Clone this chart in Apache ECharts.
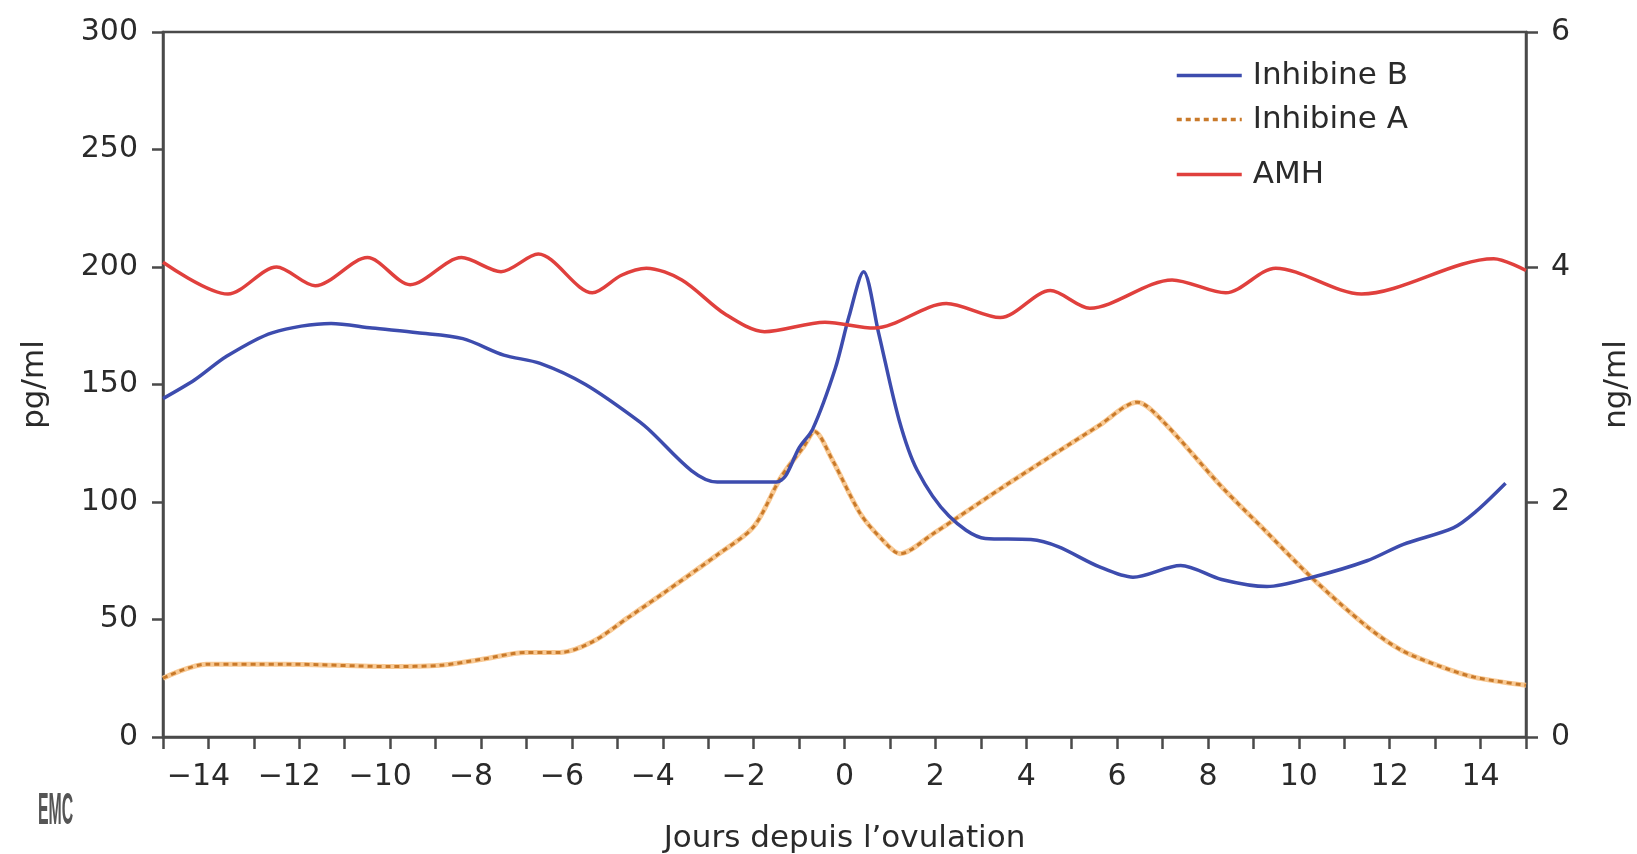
<!DOCTYPE html>
<html>
<head>
<meta charset="utf-8">
<script src="https://cdn.jsdelivr.net/npm/echarts@6/dist/echarts.min.js"></script>
<style>
html,body{margin:0;padding:0;background:#fff;}
#chart{width:1637px;height:854px;}
</style>
</head>
<body>
<div id="chart"></div>
<script>
// ---- Data ----
// x axis: days since ovulation
const xTickLabels = [-14, -12, -10, -8, -6, -4, -2, 0, 2, 4, 6, 8, 10, 12, 14];

// Inhibine B (pg/ml, left axis)
const inhBDays = [-15, -14.3, -13.6, -12.6, -11.3, -10.4, -9.4, -8.4, -7.5, -6.7, -5.7, -4.5, -2.8, -1.5, -1.3, -1.0, -0.7, -0.2, 0.1, 0.42, 0.75, 1.2, 1.6, 2.3, 3.1, 4.1, 4.7, 5.6, 6.35, 7.4, 8.3, 9.3, 10.3, 11.5, 12.3, 13.4, 13.9, 14.55];
const inhBValues = [144, 152, 162, 172, 176, 174, 172, 169.5, 162.5, 159, 150, 134, 108.5, 108.5, 111, 123, 131, 157, 179, 198, 172, 135, 113.5, 94, 84.5, 84, 81, 72.5, 68, 73, 67, 64, 68, 75, 82, 89, 96, 108];

// Inhibine A (pg/ml, left axis)
const inhADays = [-15, -14.05, -12.3, -10, -8.9, -8.0, -7.0, -6.25, -5.55, -4.75, -4.0, -2.8, -2.0, -1.4, -0.9, -0.66, -0.27, 0.35, 0.83, 1.22, 1.95, 3.5, 5.6, 6.45, 7.0, 8.3, 9.25, 10.3, 11.5, 12.25, 13.05, 13.85, 15];
const inhAValues = [25, 31, 31, 30, 30.5, 33, 36, 36, 40.5, 51, 61, 77.5, 89.5, 110.5, 123.5, 130, 118, 95, 84, 78, 86.5, 106.5, 132.5, 142.5, 134.5, 106.5, 88, 67.5, 47, 37, 30.5, 25.5, 22];

// AMH (ng/ml, right axis)
const amhDays = [-15, -13.57, -12.5, -11.65, -10.5, -9.56, -8.43, -7.56, -6.74, -5.55, -4.91, -4.36, -3.58, -2.63, -1.76, -0.43, 0.66, 2.24, 3.43, 4.53, 5.4, 7.21, 8.39, 9.49, 11.38, 14.29, 15];
const amhValues = [4.04, 3.77, 4.0, 3.84, 4.08, 3.85, 4.08, 3.96, 4.11, 3.78, 3.93, 3.99, 3.89, 3.6, 3.45, 3.53, 3.48, 3.69, 3.57, 3.8, 3.65, 3.89, 3.78, 3.99, 3.77, 4.07, 3.97];

const leftTicks = [0, 50, 100, 150, 200, 250, 300];
const rightTicks = [0, 2, 4, 6];

function pairs(xs, ys) { return xs.map((x, i) => [x, ys[i]]); }

const FONT = 'DejaVu Sans';
const TXT = '#2a2a2a';
const AXIS = '#4a4a4a';
const BLUE = '#3d4cae';
const RED = '#e0403d';
const ORANGE = '#c97a2a';
const ORANGE_LIGHT = '#f8c994';
const TICK_FS = 30;

const chart = echarts.init(document.getElementById('chart'), null, {renderer: 'canvas'});

function legendAt(name, centerY) {
  return {
    data: [name],
    left: 1175,
    top: centerY - 16,
    padding: 0,
    itemWidth: 65,
    itemHeight: 14,
    itemStyle: {opacity: 0},
    lineStyle: {width: 3.5},
    textStyle: {fontFamily: FONT, fontSize: 31, color: TXT, padding: [0, 0, 0, 6]},
    selectedMode: false
  };
}

const option = {
  animation: false,
  backgroundColor: '#fff',
  grid: {left: 163, right: 111, top: 32, bottom: 117, show: true, borderColor: AXIS, borderWidth: 2.5,
         containLabel: false, outerBoundsMode: 'none'},
  legend: [
    legendAt('Inhibine B', 76),
    legendAt('Inhibine A', 120),
    legendAt('AMH', 175)
  ],
  xAxis: {
    type: 'value', min: -15, max: 15, interval: 1,
    name: 'Jours depuis l\u2019ovulation', nameLocation: 'middle', nameGap: 86,
    nameTextStyle: {fontFamily: FONT, fontSize: 31, color: TXT},
    axisLine: {onZero: false, lineStyle: {color: AXIS, width: 2.5}},
    axisTick: {show: true, inside: false, length: 12, lineStyle: {color: AXIS, width: 2.5}},
    axisLabel: {
      fontFamily: FONT, fontSize: TICK_FS, color: TXT, margin: 25,
      formatter: v => {
        if (xTickLabels.indexOf(v) < 0) return '';
        return v < 0 ? '{neg|\u2212' + Math.abs(v) + '}' : String(v);
      },
      rich: {neg: {fontFamily: FONT, fontSize: TICK_FS, color: TXT, padding: [0, 20, 0, 0]}}
    },
    splitLine: {show: false}
  },
  yAxis: [
    {
      type: 'value', min: leftTicks[0], max: leftTicks[leftTicks.length - 1], interval: 50, position: 'left',
      name: 'pg/ml', nameLocation: 'middle', nameRotate: 90, nameGap: 113,
      nameTextStyle: {fontFamily: FONT, fontSize: 31, color: TXT},
      axisLine: {show: true, onZero: false, lineStyle: {color: AXIS, width: 2.5}},
      axisTick: {show: true, inside: false, length: 11, lineStyle: {color: AXIS, width: 2.5}},
      axisLabel: {fontFamily: FONT, fontSize: TICK_FS, color: TXT, margin: 25},
      splitLine: {show: false}
    },
    {
      type: 'value', min: rightTicks[0], max: rightTicks[rightTicks.length - 1], interval: 2, position: 'right',
      name: 'ng/ml', nameLocation: 'middle', nameRotate: 90, nameGap: 75,
      nameTextStyle: {fontFamily: FONT, fontSize: 31, color: TXT},
      axisLine: {show: true, onZero: false, lineStyle: {color: AXIS, width: 2.5}},
      axisTick: {show: true, inside: false, length: 12, lineStyle: {color: AXIS, width: 2.5}},
      axisLabel: {fontFamily: FONT, fontSize: TICK_FS, color: TXT, margin: 25},
      splitLine: {show: false}
    }
  ],
  series: [
    {
      name: 'Inhibine B', type: 'line', yAxisIndex: 0, symbol: 'none', smooth: 0.3,
      data: pairs(inhBDays, inhBValues),
      lineStyle: {color: BLUE, width: 3.5}, itemStyle: {color: BLUE}, z: 4
    },
    {
      name: '_inhA_under', type: 'line', yAxisIndex: 0, symbol: 'none', smooth: 0.3, silent: true,
      data: pairs(inhADays, inhAValues),
      lineStyle: {color: ORANGE_LIGHT, width: 5}, itemStyle: {color: ORANGE_LIGHT}, z: 2
    },
    {
      name: 'Inhibine A', type: 'line', yAxisIndex: 0, symbol: 'none', smooth: 0.3,
      data: pairs(inhADays, inhAValues),
      lineStyle: {color: ORANGE, width: 3, type: [5, 4]}, itemStyle: {color: ORANGE}, z: 3
    },
    {
      name: 'AMH', type: 'line', yAxisIndex: 1, symbol: 'none', smooth: 0.3,
      data: pairs(amhDays, amhValues),
      lineStyle: {color: RED, width: 3.5}, itemStyle: {color: RED}, z: 4
    }
  ],
  graphic: [
    {
      type: 'text', left: 38, top: 790, scaleX: 0.36,
      style: {text: 'EMC', fontFamily: 'Liberation Sans', fontSize: 44, fontWeight: 'bold', fill: '#555'}
    }
  ]
};
chart.setOption(option);
</script>
</body>
</html>
